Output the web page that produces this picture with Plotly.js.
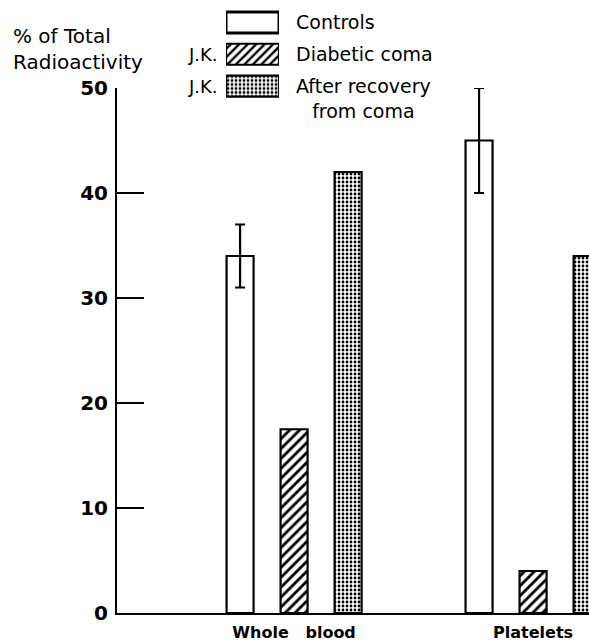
<!DOCTYPE html>
<html>
<head>
<meta charset="utf-8">
<script src="https://cdn.plot.ly/plotly-3.0.1.min.js"></script>
<style>html,body{margin:0;padding:0;background:#fff;}#chart{width:589px;height:644px;}</style>
</head>
<body>
<div id="chart"></div>
<script>
// ---- data ----
const categories = ['Whole blood', 'Platelets'];
const categoryLabels = ['Whole\u00a0\u00a0 blood', 'Platelets'];
const controls = [34, 45];
const controlsErr = [3, 5];
const diabeticComa = [17.5, 4];
const afterRecovery = [42, 34];
const yTicks = [0, 10, 20, 30, 40, 50];
const legendLabels = ['Controls', 'Diabetic coma', 'After recovery<br>from coma'];
const legendPrefix = ['', 'J.K.', 'J.K.'];

// ---- layout geometry (pixels) ----
const W = 589, H = 644;
const mB = 31;
const plotH = H - mB;           // plot area height (margin top 0)
const axisX = 117;              // y-axis pixel position
const y50px = 88;               // pixel of value 50
const FONT = 'DejaVu Sans';

const traces = [
  {
    type: 'bar', name: 'Controls', x: categories, y: controls,
    marker: {color: 'white', line: {color: 'black', width: 2.2}},
    error_y: {type: 'data', array: controlsErr, visible: true, color: 'black', thickness: 2.2, width: 5},
    cliponaxis: false, showlegend: false, hoverinfo: 'none'
  },
  {
    type: 'bar', name: 'Diabetic coma', x: categories, y: diabeticComa,
    marker: {color: 'white', line: {color: 'black', width: 2.2},
      pattern: {shape: '/', fgcolor: 'black', bgcolor: 'white', size: 7, solidity: 0.4}},
    cliponaxis: false, showlegend: false, hoverinfo: 'none'
  },
  {
    type: 'bar', name: 'After recovery from coma', x: categories, y: afterRecovery,
    marker: {color: 'white', line: {color: 'black', width: 2.2},
      pattern: {shape: '.', fgcolor: 'black', bgcolor: 'white', size: 4, solidity: 0.38}},
    cliponaxis: false, showlegend: false, hoverinfo: 'none'
  },
  // legend swatches
  {
    type: 'bar', orientation: 'h', xaxis: 'x2', yaxis: 'y2',
    y: legendLabels.map((_, i) => i), x: legendLabels.map(() => 1), base: 0,
    width: 0.66,
    marker: {color: 'white', line: {color: 'black', width: [3, 2.2, 2.2]},
      pattern: {shape: ['', '/', '.'], fgcolor: 'black', bgcolor: 'white', size: [8, 6, 4], solidity: [0.3, 0.4, 0.4]}},
    showlegend: false, hoverinfo: 'none', cliponaxis: false
  }
];

const annotations = [
  {text: '% of Total<br>Radioactivity', xref: 'paper', yref: 'paper', x: 11 / W, y: 1,
   xanchor: 'left', yanchor: 'top', align: 'left', showarrow: false, yshift: -22,
   font: {family: FONT, size: 20, color: 'black'}}
];
legendLabels.forEach((t, i) => {
  annotations.push({text: t, xref: 'x2', yref: 'y2', x: 1, y: i, xanchor: 'left',
    yanchor: 'middle', align: 'center', showarrow: false, xshift: 15, yshift: i === 2 ? -12 : 0,
    font: {family: FONT, size: 19, color: 'black'}});
  if (legendPrefix[i]) {
    annotations.push({text: legendPrefix[i], xref: 'x2', yref: 'y2', x: 0, y: i, xanchor: 'right',
      yanchor: 'middle', showarrow: false, xshift: -6,
      font: {family: FONT, size: 18, color: 'black'}});
  }
});

const layout = {
  width: W, height: H,
  margin: {l: 0, r: 0, t: 0, b: mB, pad: 0},
  paper_bgcolor: 'white', plot_bgcolor: 'white',
  barmode: 'group', bargap: 0.322, bargroupgap: 0.5,
  showlegend: false,
  font: {family: FONT, color: 'black'},
  xaxis: {
    type: 'category', domain: [axisX / W, 1], range: [-0.741, 1.234], anchor: 'y',
    showline: true, linewidth: 2, linecolor: 'black', ticks: '', showgrid: false, zeroline: false,
    tickvals: categories, ticktext: categoryLabels,
    tickfont: {family: FONT, size: 16, color: 'black', weight: 'bold'}, ticklabelstandoff: 4
  },
  yaxis: {
    domain: [0, (plotH - y50px) / plotH], range: [0, 50], anchor: 'x',
    showline: true, linewidth: 2, linecolor: 'black', ticks: 'inside', ticklen: 27, tickwidth: 1.5,
    tickcolor: 'black', tickvals: yTicks, ticktext: yTicks.map(String),
    showgrid: false, zeroline: false, ticklabelstandoff: 3,
    tickfont: {family: FONT, size: 20, color: 'black', weight: 'bold'}
  },
  xaxis2: {domain: [226 / W, 279 / W], range: [0, 1], anchor: 'y2', visible: false, fixedrange: true},
  yaxis2: {domain: [(plotH - 102) / plotH, (plotH - 6.5) / plotH], range: [2.5, -0.5], anchor: 'x2',
           visible: false, fixedrange: true},
  annotations: annotations
};

Plotly.newPlot('chart', traces, layout, {staticPlot: true, displayModeBar: false});
</script>
</body>
</html>
